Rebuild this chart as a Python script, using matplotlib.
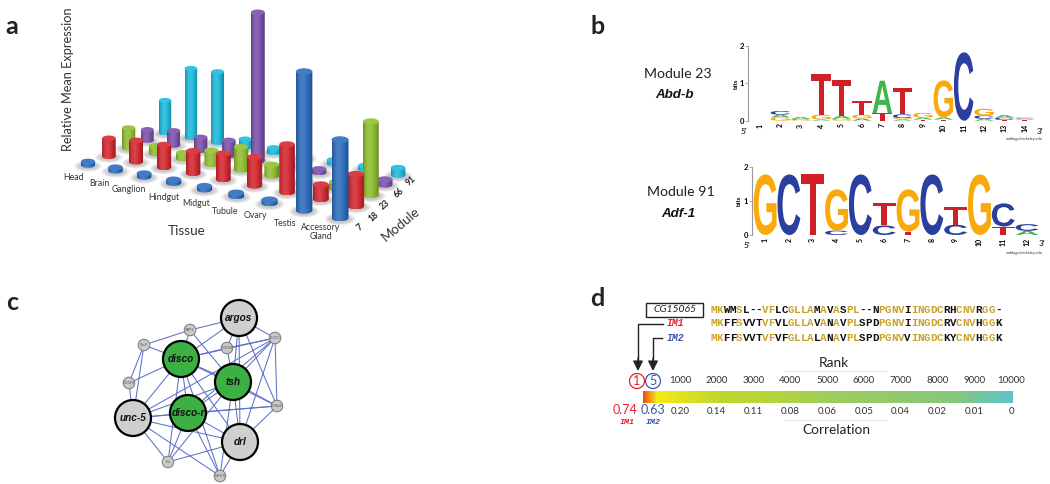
import numpy as np
import matplotlib
matplotlib.use("Agg")
import matplotlib.pyplot as plt
from matplotlib.colors import LinearSegmentedColormap, to_rgb
from matplotlib.font_manager import FontProperties
from matplotlib.patches import Circle, Ellipse, PathPatch, Polygon, Rectangle
from matplotlib.textpath import TextPath
from matplotlib.transforms import Affine2D

plt.rcParams['font.family'] = ['Lato', 'DejaVu Sans']

W, H = 1050, 484

# panel a
tissues = ["Head", "Brain", "Ganglion", "Hindgut", "Midgut", "Tubule", "Ovary", "Testis", "Accessory\nGland"]
modules = ["7", "18", "23", "66", "91"]
module_colors = ["#2a6cc0", "#d8242c", "#8fc12c", "#7b4fad", "#19bbdf"]
expr_7 = [4, 4, 4, 5, 5, 3, 4, 123, 69]
expr_18 = [22, 25, 26, 25, 28, 30, 47, 16, 31]
expr_23 = [25, 11, 9, 17, 26, 14, 3, 9, 70]
expr_66 = [15, 19, 17, 19, 157, 3, 5, 6, 8]
expr_91 = [41, 82, 82, 12, 8, 3, 3, 4, 10]
expression = [expr_7, expr_18, expr_23, expr_66, expr_91]

# panel b, stacks go bottom to top
logo_23 = [
    [],
    [("G", .09), ("A", .07), ("C", .10)],
    [("G", .03), ("C", .02), ("A", .05)],
    [("A", .03), ("G", .13), ("T", 1.08)],
    [("G", .05), ("A", .08), ("T", .95)],
    [("A", .06), ("G", .10), ("T", .38)],
    [("T", .20), ("A", .87)],
    [("A", .04), ("G", .03), ("C", .10), ("T", .71)],
    [("T", .03), ("A", .05), ("G", .13)],
    [("T", .03), ("A", .06), ("G", .99)],
    [("C", 1.83)],
    [("A", .05), ("C", .09), ("G", .18)],
    [("T", .02), ("C", .06), ("A", .07)],
    [("T", .03), ("A", .03), ("C", .02)],
]
logo_91 = [
    [("G", 1.78)],
    [("C", 1.78)],
    [("T", 1.78)],
    [("C", .13), ("G", 1.21)],
    [("C", 1.78)],
    [("C", .28), ("T", .67)],
    [("T", .10), ("G", 1.24)],
    [("C", 1.78)],
    [("C", .30), ("T", .53)],
    [("G", 1.78)],
    [("T", .25), ("C", .68)],
    [("A", .12), ("C", .20)],
]
base_colors = {"A": "#3fb54a", "C": "#2b3f9e", "G": "#f9a90a", "T": "#cf2027"}

# panel c
big_names = ["argos", "disco", "tsh", "disco-r", "unc-5", "drl"]
big_x = [239, 181, 233, 188, 133, 240]
big_y = [318, 359, 382, 413, 418, 442]
big_fill = ["#cfcfcf", "#3cb043", "#3cb043", "#3cb043", "#cfcfcf", "#cfcfcf"]
small_names = ["GBP1", "TusP", "GOOM", "CDGM", "ECOTI", "SCNAS", "fzn", "MFGTI"]
small_x = [190, 144, 129, 227, 275, 277, 168, 220]
small_y = [330, 345, 383, 348, 338, 406, 462, 476]
edges = [
    ("TusP", "GBP1"), ("TusP", "disco"), ("TusP", "GOOM"), ("TusP", "unc-5"), ("GOOM", "disco"), ("GOOM", "unc-5"),
    ("GBP1", "disco"), ("GBP1", "argos"), ("GBP1", "tsh"), ("argos", "disco"), ("argos", "CDGM"), ("argos", "tsh"),
    ("argos", "ECOTI"), ("argos", "SCNAS"), ("argos", "drl"), ("CDGM", "disco"), ("CDGM", "ECOTI"), ("CDGM", "tsh"),
    ("ECOTI", "disco"), ("ECOTI", "tsh"), ("ECOTI", "disco-r"), ("ECOTI", "unc-5"), ("ECOTI", "drl"), ("ECOTI", "SCNAS"),
    ("SCNAS", "tsh"), ("SCNAS", "disco-r"), ("SCNAS", "unc-5"), ("SCNAS", "drl"), ("SCNAS", "disco"),
    ("disco", "tsh"), ("disco", "disco-r"), ("disco", "unc-5"), ("disco", "drl"), ("disco", "fzn"), ("disco", "MFGTI"),
    ("tsh", "disco-r"), ("tsh", "unc-5"), ("tsh", "drl"), ("tsh", "fzn"), ("tsh", "MFGTI"),
    ("disco-r", "unc-5"), ("disco-r", "drl"), ("disco-r", "fzn"), ("disco-r", "MFGTI"),
    ("unc-5", "fzn"), ("unc-5", "MFGTI"), ("unc-5", "drl"), ("fzn", "drl"), ("MFGTI", "drl"),
]

# panel d
seq_names = ["CG15065", "IM1", "IM2"]
sequences = [
    "MKWMSL--VFLCGLLAMAVASPL--NPGNVIINGDCRHCNVRGG-",
    "MKFFSVVTVFVLGLLAVANAVPLSPDPGNVIINGDCRVCNVHGGK",
    "MKFFSVVTVFVFGLLALANAVPLSPDPGNVVINGDCKYCNVHGGK",
]
ranks = [1000, 2000, 3000, 4000, 5000, 6000, 7000, 8000, 9000, 10000]
correlations = ["0.20", "0.14", "0.11", "0.08", "0.06", "0.05", "0.04", "0.02", "0.01", "0"]

fig = plt.figure(figsize=(W / 100, H / 100), dpi=100)
ax = fig.add_axes([0, 0, 1, 1])


def pixel_axes(x0, y0, x1, y1):
    # y0 is the top edge, in image pixels
    return fig.add_axes([x0 / W, 1 - y1 / H, (x1 - x0) / W, (y1 - y0) / H])


def fit_homography(src, dst):
    rows = []
    for (a, b), (u, v) in zip(src, dst):
        rows.append([a, b, 1, 0, 0, 0, -u * a, -u * b, -u])
        rows.append([0, 0, 0, a, b, 1, -v * a, -v * b, -v])
    return np.linalg.svd(np.array(rows))[2][-1].reshape(3, 3)


# ground plane of the 3D bars, from grid index to image pixels
plane = fit_homography([(0, 0), (8, 0), (0, 4), (8, 4)], [(88, 165), (340, 218), (165, 133), (398, 175)])


def project(tissue, module):
    p = plane @ np.array([tissue, module, 1.0])
    return p[0] / p[2], p[1] / p[2]


def shade(color, n=40):
    c = np.array(to_rgb(color))
    t = np.linspace(0, 1, n)
    light = np.exp(-((t - 0.38) / 0.3) ** 2)
    dark = t ** 4 * 0.3 + (1 - t) ** 6 * 0.25
    img = c[None, :] * (1 - dark[:, None]) + (1 - c[None, :]) * 0.14 * light[:, None]
    return img[None, :, :]


def cylinder(x, y, value, color, z):
    r = 6.2 + 0.027 * (y - 133)
    ry = r * 0.4
    # values are read to the top rim, so the ellipse centre sits one ry lower
    h = max(value * (r - 0.2) / 7 - ry, 3.5)
    for k in range(6):
        ax.add_patch(Ellipse((x, y + 1), (r + 7 - k) * 2, (ry + 3 - k * 0.5) * 2, fc="#555555", ec="none", alpha=0.06, zorder=z))
    t = np.linspace(0, np.pi, 24)
    pts = np.column_stack([x + r * np.cos(t), y + ry * np.sin(t)])
    pts = np.vstack([pts, [[x - r, y - h], [x + r, y - h]]])
    body = Polygon(pts, closed=True, fc="none", ec="none", zorder=z)
    ax.add_patch(body)
    im = ax.imshow(shade(color), extent=(x - r, x + r, y + ry, y - h), aspect="auto", zorder=z, interpolation="bilinear")
    im.set_clip_path(body)
    top = np.array(to_rgb(color)) * 0.88 + 0.12 * 0.95
    ax.add_patch(Ellipse((x, y - h), r * 2, ry * 2, fc=top, ec="none", zorder=z + 0.1))


z = 2
for m in range(len(modules) - 1, -1, -1):
    for t in range(len(tissues)):
        bx, by = project(t, m)
        cylinder(bx, by, expression[m][t], module_colors[m], z)
        z += 1

tissue_x = [73, 99, 129, 164, 196, 225, 255, 285, 321]
tissue_y = [178, 183, 189, 197, 204, 211, 216, 223, 232]
for name, tx, ty in zip(tissues, tissue_x, tissue_y):
    ax.text(tx, ty, name, ha="center", va="center", fontsize=6.3, color="#333333", linespacing=1.1)
module_x = [360, 374, 385, 399, 411]
module_y = [227, 217, 205, 193, 181]
for name, tx, ty in zip(modules, module_x, module_y):
    ax.text(tx, ty, name, ha="center", va="center", fontsize=6.2, color="#222222", rotation=40, fontweight="bold")
ax.text(187, 231, "Tissue", ha="center", va="center", fontsize=9.7, color="#333333")
ax.text(401, 224, "Module", ha="center", va="center", fontsize=9.7, color="#333333", rotation=40)
ax.text(68, 79, "Relative Mean Expression", ha="center", va="center", fontsize=9.2, color="#333333", rotation=90)

letter_font = FontProperties(family="Liberation Sans", weight="bold")


def draw_logo(axl, stacks, bits_pad):
    for pos, stack in enumerate(stacks, start=1):
        bottom = 0
        for letter, bits in stack:
            tp = TextPath((0, 0), letter, size=1, prop=letter_font)
            bb = tp.get_extents()
            tr = Affine2D().translate(-bb.x0, -bb.y0).scale(0.96 / bb.width, bits / bb.height).translate(pos - 0.48, bottom)
            axl.add_patch(PathPatch(tr.transform_path(tp), fc=base_colors[letter], ec="none", lw=0))
            bottom += bits
    for side in ["top", "right", "bottom"]:
        axl.spines[side].set_visible(False)
    axl.spines["left"].set_color("#999999")
    axl.spines["left"].set_linewidth(0.8)
    axl.set_ylim(0, 2)
    axl.patch.set_alpha(0)
    axl.set_yticks([0, 1, 2])
    axl.set_ylabel("bits", fontsize=4.6, labelpad=bits_pad, fontweight="bold")
    axl.set_xticks(range(1, len(stacks) + 1))
    axl.set_xticklabels(range(1, len(stacks) + 1), rotation=90, fontsize=5, fontweight="bold")
    axl.tick_params(axis="y", labelsize=5.5, length=2, width=0.6, pad=1, color="#999999")
    axl.tick_params(axis="x", length=0, pad=2)
    for lab in axl.get_yticklabels():
        lab.set_fontweight("bold")


logo_a = pixel_axes(748, 46, 1035, 120.7)
logo_a.set_xlim(0.41, 14.5)
draw_logo(logo_a, logo_23, 0.5)
logo_b = pixel_axes(752, 167, 1039, 235)
logo_b.set_xlim(0.45, 12.5)
draw_logo(logo_b, logo_91, 1)

ax.text(678, 74, "Module 23", ha="center", va="center", fontsize=10.2, color="#222222")
ax.text(675, 95, "Abd-b", ha="center", va="center", fontsize=9.6, style="italic", fontweight="bold", family="Liberation Sans", color="#111111")
ax.text(681, 192, "Module 91", ha="center", va="center", fontsize=10.2, color="#222222")
ax.text(678, 214, "Adf-1", ha="center", va="center", fontsize=9.6, style="italic", fontweight="bold", family="Liberation Sans", color="#111111")
ax.text(744, 131, "5'", ha="center", va="center", fontsize=6, fontweight="bold", color="#333333")
ax.text(1040, 131, "3'", ha="center", va="center", fontsize=6, fontweight="bold", color="#333333")
ax.text(747, 245, "5'", ha="center", va="center", fontsize=6, fontweight="bold", color="#333333")
ax.text(1042, 244, "3'", ha="center", va="center", fontsize=6, fontweight="bold", color="#333333")
ax.text(1024, 139, "weblogo.berkeley.edu", ha="center", va="center", fontsize=2.8, color="#333333")
ax.text(1024, 253, "weblogo.berkeley.edu", ha="center", va="center", fontsize=2.8, color="#333333")

# network
pos = {n: (x, y) for n, x, y in zip(big_names + small_names, big_x + small_x, big_y + small_y)}
for a, b in edges:
    ax.plot([pos[a][0], pos[b][0]], [pos[a][1], pos[b][1]], color="#5a72c8", lw=0.75, zorder=300, solid_capstyle="round")
for n, x, y in zip(small_names, small_x, small_y):
    ax.add_patch(Circle((x, y), 5.8, fc="#c9c9c9", ec="#777777", lw=0.7, zorder=301))
    ax.text(x, y, n, ha="center", va="center", fontsize=2.6, color="#555555", zorder=302)
for n, x, y, c in zip(big_names, big_x, big_y, big_fill):
    ax.add_patch(Circle((x, y), 18, fc=c, ec="black", lw=1.6, zorder=303))
    ax.text(x, y, n, ha="center", va="center", fontsize=7.2, style="italic", fontweight="bold", family="Liberation Sans", color="#111111", zorder=304)

# alignment, a column is gold when all three sequences agree
seq_x0, seq_step = 713.5, 6.47
seq_rows = [310, 323.5, 338]
mono = FontProperties(family="Liberation Mono", weight="bold", size=7.8)
for row, seq in zip(seq_rows, sequences):
    for i, ch in enumerate(seq):
        same = len({s[i] for s in sequences}) == 1
        ax.text(seq_x0 + i * seq_step, row, ch, ha="center", va="center", fontproperties=mono, color="#c9a227" if same else "#111111")

ax.add_patch(Rectangle((646, 303), 57, 14, fc="white", ec="#222222", lw=1))
ax.text(674.5, 310, seq_names[0], ha="center", va="center", fontsize=7.5, style="italic", color="#222222")
ax.text(676, 323.5, seq_names[1], ha="center", va="center", fontsize=7, style="italic", fontweight="bold", family="Liberation Mono", color="#e8202a")
ax.text(676, 338, seq_names[2], ha="center", va="center", fontsize=7, style="italic", fontweight="bold", family="Liberation Mono", color="#3a56b0")

ax.plot([663, 638, 638], [323.5, 323.5, 362], color="#222222", lw=1)
ax.plot([662, 653, 653], [338, 338, 362], color="#222222", lw=1)
for ax_x in [638, 653]:
    ax.annotate("", xy=(ax_x, 371), xytext=(ax_x, 358), arrowprops=dict(arrowstyle="-|>", color="#222222", mutation_scale=15, lw=1, shrinkA=0, shrinkB=0))

ax.add_patch(Circle((637, 381), 7.5, fc="white", ec="#e8202a", lw=0.9))
ax.text(637, 381, "1", ha="center", va="center", fontsize=9, color="#e8202a")
ax.add_patch(Circle((653, 381), 7.5, fc="white", ec="#3a56b0", lw=0.9))
ax.text(653, 381, "5", ha="center", va="center", fontsize=9, color="#3a56b0")

rank_cmap = LinearSegmentedColormap.from_list("rank", [
    (0, "#f0530f"), (0.012, "#f58a12"), (0.035, "#f6ea16"), (0.1, "#e4e21e"), (0.2, "#c0d82e"),
    (0.35, "#b4d53a"), (0.5, "#a0cd5c"), (0.7, "#90c96f"), (0.85, "#86c77e"), (1, "#5cc5cc"),
])
cb = pixel_axes(643, 391, 1013, 403)
cb.imshow(np.linspace(0, 1, 370)[None, :], cmap=rank_cmap, aspect="auto", extent=(0, 10050, 0, 1))
cb.set_yticks([])
for s in cb.spines.values():
    s.set_visible(False)
cb.set_xticks(ranks)
cb.set_xticklabels(correlations, fontsize=7, color="#333333")
cb.tick_params(axis="x", length=0, pad=3)
sec = cb.secondary_xaxis("top")
sec.set_xticks(ranks)
sec.set_xticklabels(ranks, fontsize=7, color="#333333")
sec.tick_params(axis="x", length=0, pad=4)
for s in sec.spines.values():
    s.set_visible(False)

ax.text(834, 363, "Rank", ha="center", va="center", fontsize=9.8, color="#222222")
ax.text(836, 430, "Correlation", ha="center", va="center", fontsize=9.8, color="#222222")
ax.plot([785, 887], [371, 371], color="#eeeeee", lw=1)
ax.plot([785, 887], [420, 420], color="#eeeeee", lw=1)
ax.text(625, 410, "0.74", ha="center", va="center", fontsize=9, color="#e8202a")
ax.text(653, 410, "0.63", ha="center", va="center", fontsize=9, color="#3a56b0")
ax.text(627, 423, "IM1", ha="center", va="center", fontsize=6, style="italic", fontweight="bold", family="Liberation Mono", color="#e8202a")
ax.text(653, 423, "IM2", ha="center", va="center", fontsize=6, style="italic", fontweight="bold", family="Liberation Mono", color="#3a56b0")

for letter, lx, ly in [("a", 12, 26), ("b", 598, 26), ("c", 12, 303), ("d", 597, 298)]:
    ax.text(lx, ly, letter, ha="center", va="center", fontsize=18, fontweight="bold", color="#222222")

ax.set_xlim(0, W)
ax.set_ylim(H, 0)
ax.axis("off")
fig.savefig("out.png", dpi=100)
